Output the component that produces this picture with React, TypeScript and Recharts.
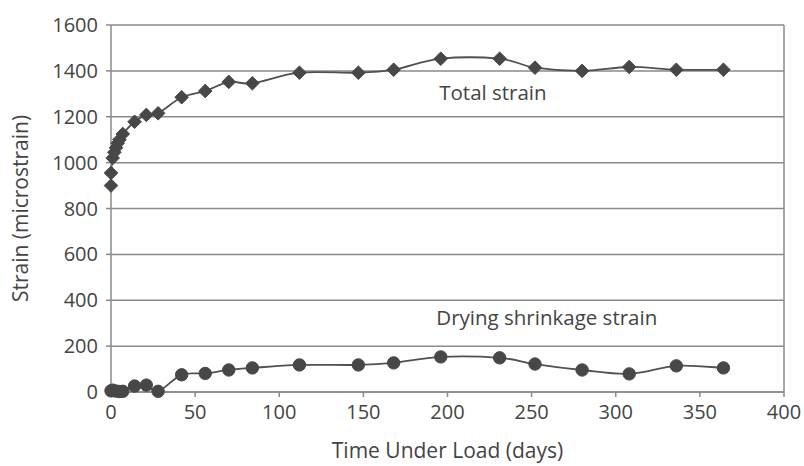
import React from "react";
import { ComposedChart, Line, XAxis, YAxis, CartesianGrid, ReferenceLine, ReferenceDot } from "recharts";

const totalDays = [0, 0, 1, 2, 3, 4, 5, 7, 14, 21, 28, 42, 56, 70, 84, 112, 147, 168, 196, 231, 252, 280, 308, 336, 364];
const totalStrain = [900, 955, 1020, 1045, 1065, 1085, 1100, 1125, 1178, 1208, 1215, 1285, 1312, 1352, 1346, 1392, 1392, 1405, 1453, 1453, 1414, 1400, 1417, 1405, 1405];

const dryDays = [0, 1, 3, 5, 7, 14, 21, 28, 42, 56, 70, 84, 112, 147, 168, 196, 231, 252, 280, 308, 336, 364];
const dryStrain = [5, 8, 4, 2, 3, 26, 30, 3, 75, 81, 96, 105, 118, 118, 127, 153, 149, 122, 96, 79, 114, 105];

const xTicks = [0, 50, 100, 150, 200, 250, 300, 350, 400];
const yTicks = [0, 200, 400, 600, 800, 1000, 1200, 1400, 1600];

const totalData = totalDays.map((d, i) => ({ d, v: totalStrain[i] }));
const dryData = dryDays.map((d, i) => ({ d, v: dryStrain[i] }));

const FONT = "'Open Sans', sans-serif";
const TEXT = "#444";
const MARK = "#474747";

function excelCurve(context: any) {
  let pts: [number, number][] = [];
  return {
    areaStart() {},
    areaEnd() {},
    lineStart() {
      pts = [];
    },
    point(x: number, y: number) {
      pts.push([+x, +y]);
    },
    lineEnd() {
      const n = pts.length;
      if (!n) return;
      context.moveTo(pts[0][0], pts[0][1]);
      if (n === 1) return;
      const k = 1 / 6;
      for (let i = 0; i < n - 1; i++) {
        const p0 = pts[Math.max(0, i - 1)];
        const p1 = pts[i];
        const p2 = pts[i + 1];
        const p3 = pts[Math.min(n - 1, i + 2)];
        context.bezierCurveTo(
          p1[0] + (p2[0] - p0[0]) * k,
          p1[1] + (p2[1] - p0[1]) * k,
          p2[0] - (p3[0] - p1[0]) * k,
          p2[1] - (p3[1] - p1[1]) * k,
          p2[0],
          p2[1]
        );
      }
    },
  };
}

const Diamond = (props: any) => {
  const { cx, cy } = props;
  if (cx == null || cy == null) return null;
  const r = 6.8;
  return (
    <polygon
      points={`${cx},${cy - r} ${cx + r},${cy} ${cx},${cy + r} ${cx - r},${cy}`}
      fill={MARK}
      stroke={MARK}
    />
  );
};

const Circle = (props: any) => {
  const { cx, cy } = props;
  if (cx == null || cy == null) return null;
  return <circle cx={cx} cy={cy} r={6.2} fill={MARK} stroke={MARK} />;
};

const YTitle = (props: any) => {
  const vb = props.viewBox || {};
  const cy = (vb.y || 0) + (vb.height || 0) / 2;
  const cx = 20;
  return (
    <text
      x={cx}
      y={cy}
      transform={`rotate(-90, ${cx}, ${cy})`}
      textAnchor="middle"
      dominantBaseline="central"
      fill={TEXT}
      fontSize={21}
      fontFamily={FONT}
    >
      Strain (microstrain)
    </text>
  );
};

const NoteLabel = (text: string) => (props: any) => {
  const vb = props.viewBox || {};
  return (
    <text
      x={vb.x}
      y={vb.y}
      textAnchor="middle"
      dominantBaseline="central"
      fill={TEXT}
      fontSize={20.5}
      fontFamily={FONT}
    >
      {text}
    </text>
  );
};

export default function App() {
  return (
    <div style={{ position: "absolute", left: 0, top: 0, width: 804, height: 466, background: "#fff" }}>
      <ComposedChart width={804} height={466} margin={{ top: 25, right: 20, bottom: 14, left: 0 }}>
        <CartesianGrid horizontal={true} vertical={false} stroke="#8a8a8a" strokeWidth={1.5} />
        <XAxis
          type="number"
          dataKey="d"
          domain={[0, 400]}
          ticks={xTicks}
          allowDuplicatedCategory={false}
          height={60}
          tickSize={5}
          tickMargin={8}
          axisLine={{ stroke: "#8a8a8a", strokeWidth: 1.5 }}
          tickLine={{ stroke: "#8a8a8a", strokeWidth: 1.5 }}
          tick={{ fill: TEXT, fontSize: 20, fontFamily: FONT }}
          label={{ value: "Time Under Load (days)", position: "insideBottom", offset: -6, fill: TEXT, fontSize: 21, fontFamily: FONT }}
        />
        <YAxis
          type="number"
          domain={[0, 1600]}
          ticks={yTicks}
          width={111}
          tickSize={5}
          tickMargin={8}
          interval={0}
          axisLine={{ stroke: "#8a8a8a", strokeWidth: 1.5 }}
          tickLine={{ stroke: "#8a8a8a", strokeWidth: 1.5 }}
          tick={{ fill: TEXT, fontSize: 20, fontFamily: FONT }}
          label={<YTitle />}
        />
        <ReferenceLine x={400} stroke="#8a8a8a" strokeWidth={1.5} />
        <Line
          data={totalData}
          dataKey="v"
          type={excelCurve as any}
          stroke="#505050"
          strokeWidth={1.8}
          dot={<Diamond />}
          activeDot={false}
          isAnimationActive={false}
        />
        <Line
          data={dryData}
          dataKey="v"
          type={excelCurve as any}
          stroke="#505050"
          strokeWidth={1.8}
          dot={<Circle />}
          activeDot={false}
          isAnimationActive={false}
        />
        <ReferenceDot x={227} y={1307} r={0} fill="none" stroke="none" label={NoteLabel("Total strain")} />
        <ReferenceDot x={259} y={328} r={0} fill="none" stroke="none" label={NoteLabel("Drying shrinkage strain")} />
      </ComposedChart>
    </div>
  );
}
